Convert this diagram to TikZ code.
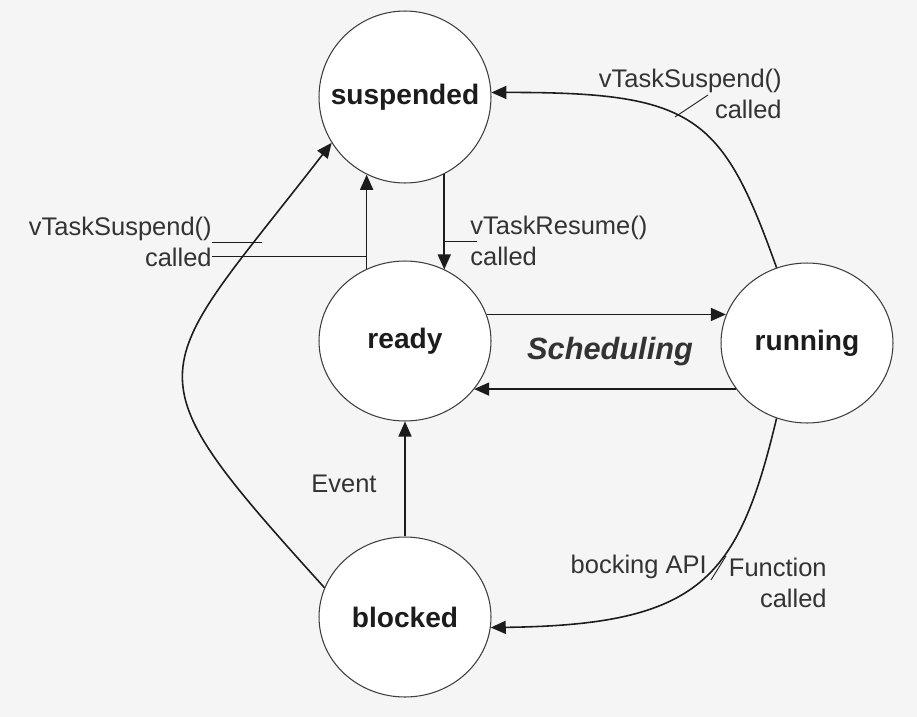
\documentclass[tikz,border=0pt]{standalone}
\usepackage{fontspec}
\setmainfont{Liberation Sans}
\usetikzlibrary{shapes.geometric,arrows.meta}
\definecolor{bgcol}{HTML}{F5F5F5}
\definecolor{inkcol}{HTML}{1C1C1C}
\definecolor{txtcol}{HTML}{333333}
\begin{document}
\begin{tikzpicture}[x=0.02cm, y=-0.02cm,
  statenode/.style={ellipse, draw=inkcol!85, line width=0.6pt, fill=white, minimum width=3.44cm, minimum height=3.2cm, inner xsep=-18pt, inner ysep=0pt, text=inkcol, font=\fontsize{16}{19}\selectfont\bfseries},
  lbl/.style={inner sep=0pt, text=txtcol, font=\fontsize{14.5}{17.6}\selectfont},
  flow/.style={draw=inkcol, line width=0.9pt, -{Triangle[length=0.3cm,width=0.26cm]}},
  tickline/.style={draw=inkcol, line width=0.5pt}]
\fill[bgcol] (0,0) rectangle (917,717);
\useasboundingbox (0,0) rectangle (917,717);
\node[statenode, minimum height=3.44cm] (suspended) at (405,97) {suspended};
\node[statenode] (ready) at (405,341) {ready};
\node[statenode] (running) at (807,343) {running};
\node[statenode] (blocked) at (405,617) {blocked};
%%%%%%%%%%%%%
\node[lbl, anchor=east, align=right] (lblsusR) at (782,94) {vTaskSuspend()\\called};
\node[lbl, anchor=east, align=right] (lblsusL) at (212,242) {vTaskSuspend()\\called};
\node[lbl, anchor=west, align=left] (lblres) at (470,241) {vTaskResume()\\called};
\node[lbl] (lblevent) at (344,484) {Event};
\node[lbl, anchor=east] (lblblock) at (707,567) {bocking API};
\node[lbl, anchor=east, align=right] (lblfunc) at (827,583) {Function\\called};
\node[lbl, font=\fontsize{17.5}{21}\selectfont\bfseries\itshape] (lblsched) at (610,352) {Scheduling};
%%%%%%%%%%%%%
\draw[flow] (ready.118) -- (suspended.244 -| ready.118);
\draw[flow] (suspended.-63) -- (ready.61 -| suspended.-63);
\draw[flow] (ready.18) -- (ready.18 -| running.161);
\draw[flow] (running.213) -- (running.213 -| ready.-35);
\draw[flow] (blocked.north) -- (ready.south);
\draw[flow] (running.112) .. controls (722,115) and (695,92) .. (suspended.3);
\draw[flow] (blocked.160) .. controls (122,364) and (149,379) .. (suspended.212);
\draw[flow] (running.248) .. controls (738,580) and (700,625) .. (blocked.-7);
%%%%%%%%%%%%%
\draw[tickline] (lblsusL.east) -- ++(50,0);
\draw[tickline] ([yshift=-0.28cm]lblsusL.east) -- ([yshift=-0.28cm]lblsusL.east -| ready.118);
\draw[tickline] (lblres.west -| suspended.-63) -- ([xshift=0.14cm]lblres.west);
\draw[tickline] (675,117) -- (708,95);
\draw[tickline] (711,580) -- (726,556);
\end{tikzpicture}
\end{document}
